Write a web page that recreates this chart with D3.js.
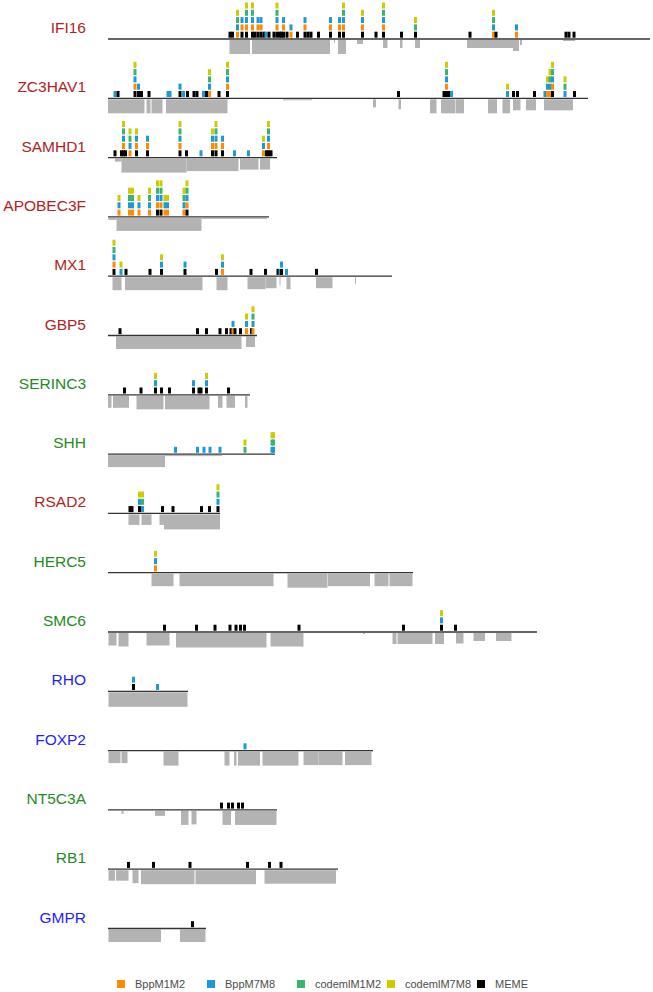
<!DOCTYPE html>
<html lang="en">
<head>
<meta charset="utf-8">
<style>
  body { margin: 0; background: #fff; }
  svg text { font-family: "Liberation Sans", Arial, sans-serif; }
</style>
</head>
<body>
<div id="chart"></div>
<script src="https://d3js.org/d3.v7.min.js"></script>
<script>
// genes, top to bottom
var genes = ["IFI16","ZC3HAV1","SAMHD1","APOBEC3F","MX1","GBP5","SERINC3","SHH",
             "RSAD2","HERC5","SMC6","RHO","FOXP2","NT5C3A","RB1","GMPR"];
var geneGroup = ["red","red","red","red","red","red","green","green",
                 "red","green","green","blue","blue","green","green","blue"];
var geneLength = [1084,960,338,322,568,298,284,334,224,610,858,160,530,338,460,196];

// method codes, stacked bottom -> top
var methods = ["MEME","BppM1M2","BppM7M8","codemlM1M2","codemlM7M8"];
var methodCode = ["m","a","b","c","d"];
var legendOrder = ["BppM1M2","BppM7M8","codemlM1M2","codemlM7M8","MEME"];

// sites: [codon, methods]
var IFI16_sites = [[244,"m"],[249,"m"],[259,"abcd"],[268,"mab"],[277,"mabcd"],[289,"mabcd"],[294,"m"],
  [300,"mab"],[306,"mab"],[312,"m"],[316,"b"],[322,"m"],[332,"m"],[338,"mabcd"],[343,"m"],[347,"m"],
  [351,"mab"],[358,"m"],[366,"ab"],[379,"m"],[394,"mab"],[400,"m"],[406,"m"],[421,"m"],[445,"mab"],
  [463,"mab"],[471,"mabcd"],[509,"mabd"],[536,"m"],[551,"mabcd"],[587,"m"],[615,"mcd"],[724,"m"],
  [771,"abcd"],[776,"m"],[817,"ab"],[916,"m"],[922,"m"],[932,"m"]];
var ZC3HAV1_sites = [[14,"b"],[20,"m"],[54,"mabcd"],[61,"mb"],[67,"m"],[82,"m"],[120,"b"],[124,"b"],
  [144,"mb"],[151,"b"],[159,"m"],[172,"m"],[178,"m"],[191,"b"],[197,"m"],[203,"abcd"],[222,"m"],
  [239,"mabcd"],[581,"m"],[672,"m"],[677,"mabcd"],[682,"m"],[687,"b"],[799,"bd"],[811,"m"],[819,"m"],
  [853,"m"],[874,"b"],[879,"abd"],[884,"abcd"],[889,"mabcd"],[914,"bcd"],[933,"m"]];
var SAMHD1_sites = [[14,"m"],[27,"m"],[31,"mabcd"],[35,"m"],[44,"abcd"],[57,"mabd"],[79,"mab"],
  [144,"mabcd"],[157,"m"],[186,"b"],[209,"mabd"],[216,"mabcd"],[229,"mab"],[253,"b"],[281,"b"],
  [311,"abd"],[317,"m"],[321,"mabcd"],[326,"m"]];
var APOBEC3F_sites = [[22,"abd"],[43,"abcd"],[49,"abcd"],[62,"abd"],[83,"abcd"],[99,"mabcd"],
  [106,"mabcd"],[114,"abd"],[119,"abd"],[152,"abcd"],[158,"mabcd"]];
var MX1_sites = [[12,"mabcd"],[26,"bd"],[36,"m"],[84,"m"],[107,"mbd"],[154,"mb"],[217,"m"],[229,"abd"],
  [286,"m"],[315,"m"],[340,"m"],[344,"b"],[347,"mb"],[357,"b"],[417,"m"]];
var GBP5_sites = [[24,"m"],[179,"m"],[197,"m"],[224,"m"],[237,"m"],[246,"m"],[250,"ab"],[254,"m"],
  [265,"m"],[277,"abd"],[287,"m"],[290,"abcd"]];
var SERINC3_sites = [[33,"m"],[66,"m"],[95,"mbd"],[107,"m"],[123,"m"],[171,"mb"],[182,"m"],[186,"m"],
  [197,"mbd"],[241,"m"]];
var SHH_sites = [[135,"b"],[179,"b"],[192,"b"],[204,"b"],[224,"b"],[274,"cd"],[328,"bcd"],[331,"bcd"]];
var RSAD2_sites = [[44,"m"],[48,"m"],[63,"mbd"],[69,"bcd"],[109,"m"],[130,"m"],[187,"m"],[203,"m"],[220,"mbcd"]];
var HERC5_sites = [[95,"abd"]];
var SMC6_sites = [[113,"m"],[177,"m"],[214,"m"],[244,"m"],[256,"m"],[265,"m"],[273,"m"],[382,"m"],
  [591,"m"],[667,"mbd"],[695,"m"]];
var RHO_sites = [[51,"mb"],[99,"b"]];
var FOXP2_sites = [[274,"b"]];
var NT5C3A_sites = [[227,"m"],[241,"m"],[249,"m"],[261,"m"],[269,"m"]];
var RB1_sites = [[41,"m"],[91,"m"],[164,"m"],[279,"m"],[323,"m"],[346,"m"]];
var GMPR_sites = [[169,"m"]];

// alignment coverage: [from, to, sequences]
var IFI16_cov = [[243,284,28],[288,444,28],[452,454,6],[460,476,28],[498,510,8],[550,559,16],
  [584,589,16],[614,624,16],[718,810,16],[810,822,22],[824,828,10],[910,934,2]];
var ZC3HAV1_cov = [[0,73,28],[77,85,28],[87,109,28],[116,239,28],[350,408,2],[530,536,16],[581,586,20],
  [644,657,28],[666,694,28],[695,712,28],[760,778,28],[789,804,28],[810,825,22],[836,856,22],[872,930,22]];
var SAMHD1_cov = [[14,27,6],[27,157,28],[157,261,25],[264,301,22],[304,324,22]];
var APOBEC3F_cov = [[1,17,4],[17,187,26],[187,318,2]];
var MX1_cov = [[9,27,26],[34,189,26],[217,239,26],[279,315,24],[315,337,22],[343,345,16],[357,365,24],
  [416,449,22],[494,496,14]];
var GBP5_cov = [[16,267,25],[276,294,21]];
var SERINC3_cov = [[0,7,24],[10,42,24],[57,111,27],[114,203,27],[220,229,24],[237,254,24],[274,279,24]];
var SHH_cov = [[0,114,24],[114,228,2]];
var RSAD2_cov = [[41,63,21],[67,87,21],[103,112,21],[112,224,30]];
var HERC5_cov = [[87,131,25],[143,331,25],[359,439,28],[440,524,25],[533,561,25],[563,609,25]];
var SMC6_cov = [[1,17,25],[21,41,27],[77,123,25],[136,317,29],[325,391,27],[510,514,2],[569,577,22],
  [579,649,22],[654,672,22],[696,711,21],[731,754,16],[776,807,16]];
var RHO_cov = [[1,159,29]];
var FOXP2_cov = [[1,25,23],[27,39,23],[111,141,28],[233,243,28],[252,257,28],[260,304,28],[309,381,28],
  [391,421,27],[421,469,27],[474,527,27]];
var NT5C3A_cov = [[27,31,6],[94,114,10],[146,161,28],[167,177,27],[229,246,28],[254,337,28]];
var RB1_cov = [[1,14,21],[16,41,21],[49,61,26],[66,173,28],[175,296,28],[313,456,27]];
var GMPR_cov = [[1,106,25],[144,195,25]];

var allSites = [IFI16_sites,ZC3HAV1_sites,SAMHD1_sites,APOBEC3F_sites,MX1_sites,GBP5_sites,SERINC3_sites,
  SHH_sites,RSAD2_sites,HERC5_sites,SMC6_sites,RHO_sites,FOXP2_sites,NT5C3A_sites,RB1_sites,GMPR_sites];
var allCov = [IFI16_cov,ZC3HAV1_cov,SAMHD1_cov,APOBEC3F_cov,MX1_cov,GBP5_cov,SERINC3_cov,SHH_cov,
  RSAD2_cov,HERC5_cov,SMC6_cov,RHO_cov,FOXP2_cov,NT5C3A_cov,RB1_cov,GMPR_cov];

var width = 653, height = 992;

var svg = d3.select("#chart").append("svg")
  .attr("width", width)
  .attr("height", height);

var x = d3.scaleLinear().domain([0, d3.max(geneLength)]).range([108, 650]);
var row = d3.scaleLinear().domain([0, genes.length - 1]).range([39, 928.5]);
var depth = d3.scaleLinear().domain([0, 30]).range([0, 15]);
var level = d3.scaleLinear().domain([0, 1]).range([0, 7.3]);

var labelColor = d3.scaleOrdinal().domain(["red","green","blue"]).range(["#b22222","#228b22","#1f1fff"]);
var methodColor = d3.scaleOrdinal().domain(methods)
  .range(["#000000","#ff8c00","#1a9bd4","#3cb371","#cccc00"]);

var g = svg.selectAll(".gene")
  .data(genes)
  .enter().append("g")
  .attr("class", "gene")
  .attr("transform", function(d, i) { return "translate(0," + row(i) + ")"; });

g.append("text")
  .attr("x", 86)
  .attr("y", -6)
  .attr("text-anchor", "end")
  .attr("font-size", "15.5px")
  .attr("fill", function(d, i) { return labelColor(geneGroup[i]); })
  .text(function(d) { return d; });

// coverage below the line
g.each(function(d, i) {
  d3.select(this).selectAll(".cov")
    .data(allCov[i])
    .enter().append("rect")
    .attr("class", "cov")
    .attr("x", function(c) { return x(c[0]); })
    .attr("width", function(c) { return Math.max(0.8, x(c[1]) - x(c[0])); })
    .attr("y", 1)
    .attr("height", function(c) { return depth(c[2]); })
    .attr("fill", "#b3b3b3");
});

g.append("line")
  .attr("x1", x(0))
  .attr("x2", function(d, i) { return x(geneLength[i]); })
  .attr("y1", 0).attr("y2", 0)
  .attr("stroke", "#333")
  .attr("stroke-width", 1.3);

// stacked site squares
g.each(function(d, i) {
  var cells = [];
  allSites[i].forEach(function(s) {
    var k = 0;
    methodCode.forEach(function(c, j) {
      if (s[1].indexOf(c) >= 0) {
        cells.push({ pos: s[0], method: methods[j], k: k });
        k++;
      }
    });
  });
  d3.select(this).selectAll(".cell")
    .data(cells)
    .enter().append("rect")
    .attr("class", "cell")
    .attr("x", function(c) { return x(c.pos) - 1.5; })
    .attr("width", 3)
    .attr("y", function(c) { return -level(c.k + 1); })
    .attr("height", 6)
    .attr("fill", function(c) { return methodColor(c.method); });
});

// legend
var legend = svg.append("g")
  .attr("transform", "translate(117,984)");

var item = legend.selectAll(".item")
  .data(legendOrder)
  .enter().append("g")
  .attr("class", "item")
  .attr("transform", function(d, i) { return "translate(" + (i * 90) + ",0)"; });

item.append("rect")
  .attr("x", 0).attr("y", -4)
  .attr("width", 8).attr("height", 8)
  .attr("fill", function(d) { return methodColor(d); });

item.append("text")
  .attr("x", 18)
  .attr("y", 4)
  .attr("font-size", "11px")
  .attr("fill", "#4d4d4d")
  .text(function(d) { return d; });
</script>
</body>
</html>
